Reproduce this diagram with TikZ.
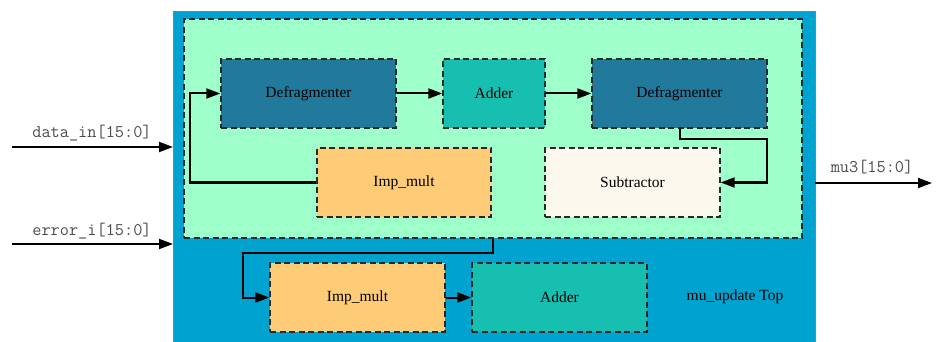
\documentclass[tikz,border=0pt]{standalone}
\usepackage{fontspec}
\setmainfont{Liberation Serif}
\usetikzlibrary{arrows.meta,calc}
\definecolor{outerblue}{RGB}{0,163,207}
\definecolor{innergreen}{RGB}{158,255,203}
\definecolor{defragc}{RGB}{33,121,155}
\definecolor{adderc}{RGB}{22,191,176}
\definecolor{multc}{RGB}{254,203,119}
\definecolor{subc}{RGB}{252,248,238}
\definecolor{dashc}{RGB}{40,40,40}
\tikzset{
  x=1pt,y=-1pt,
  blk/.style={draw=dashc, line width=1.4pt, dash pattern=on 6pt off 3.5pt, minimum width=175pt, minimum height=69pt, inner sep=0pt, font=\fontsize{15.5}{18}\selectfont, text=black},
  wire/.style={line width=2pt, -{Triangle[length=14pt,width=10pt]}},
  portlbl/.style={font=\ttfamily\fontsize{17.8}{20}\selectfont, text=black!70, inner sep=0pt}
}
\begin{document}
\begin{tikzpicture}
\useasboundingbox (0,0) rectangle (940,342);
\fill[white] (0,0) rectangle (940,342);
% outer top-level block
\fill[outerblue] (173,12) rectangle (815,342);
\draw[gray, line width=1pt] (173,342) -- (173,12) -- (815,12) -- (815,342);
% inner group
\node[draw=dashc, fill=innergreen, line width=1.4pt, dash pattern=on 6pt off 3.5pt, minimum width=618pt, minimum height=219pt, inner sep=0pt] (inner) at (493,128.5) {};
% blocks
\node[blk, fill=defragc] (def1) at (308.5,93.5) {Defragmenter};
\node[blk, fill=adderc, minimum width=102pt] (add1) at (494,93.5) {Adder};
\node[blk, fill=defragc] (def2) at (679.5,93.5) {Defragmenter};
\node[blk, fill=multc, minimum width=174pt] (imp1) at (404,182.5) {Imp\_mult};
\node[blk, fill=subc] (sub) at (632.5,182.5) {Subtractor};
\node[blk, fill=multc] (imp2) at (357.5,297.5) {Imp\_mult};
\node[blk, fill=adderc] (add2) at (559.5,297.5) {Adder};
\node[font=\fontsize{15.5}{18}\selectfont, inner sep=0pt] (title) at (735,297) {mu\_update Top};
% internal connectors
\draw[wire] (imp1.west) -- ++(-126,0) |- (def1.west);
\draw[wire] (def1.east) -- (add1.west);
\draw[wire] (add1.east) -- (def2.west);
\draw[wire] (def2.south) -- ++(0,10) -- ++(87,0) |- (sub.east);
\draw[wire] (inner.south) -- ++(0,14) -- ++(-250,0) |- (imp2.west);
\draw[wire] (imp2.east) -- (add2.west);
% ports
\coordinate (dinS) at (12,147);
\coordinate (dinE) at (173,147);
\coordinate (errS) at (12,244);
\coordinate (errE) at (173,244);
\coordinate (muS) at (815,183);
\coordinate (muE) at (932,183);
\draw[wire] (dinS) -- (dinE);
\draw[wire] (errS) -- (errE);
\draw[wire] (muS) -- (muE);
\node[portlbl] (dinL) at (92,133) {data\_in[15:0]};
\node[portlbl] (errL) at (92,231) {error\_i[15:0]};
\node[portlbl] (muL) at (872,167) {mu3[15:0]};
\end{tikzpicture}
\end{document}
